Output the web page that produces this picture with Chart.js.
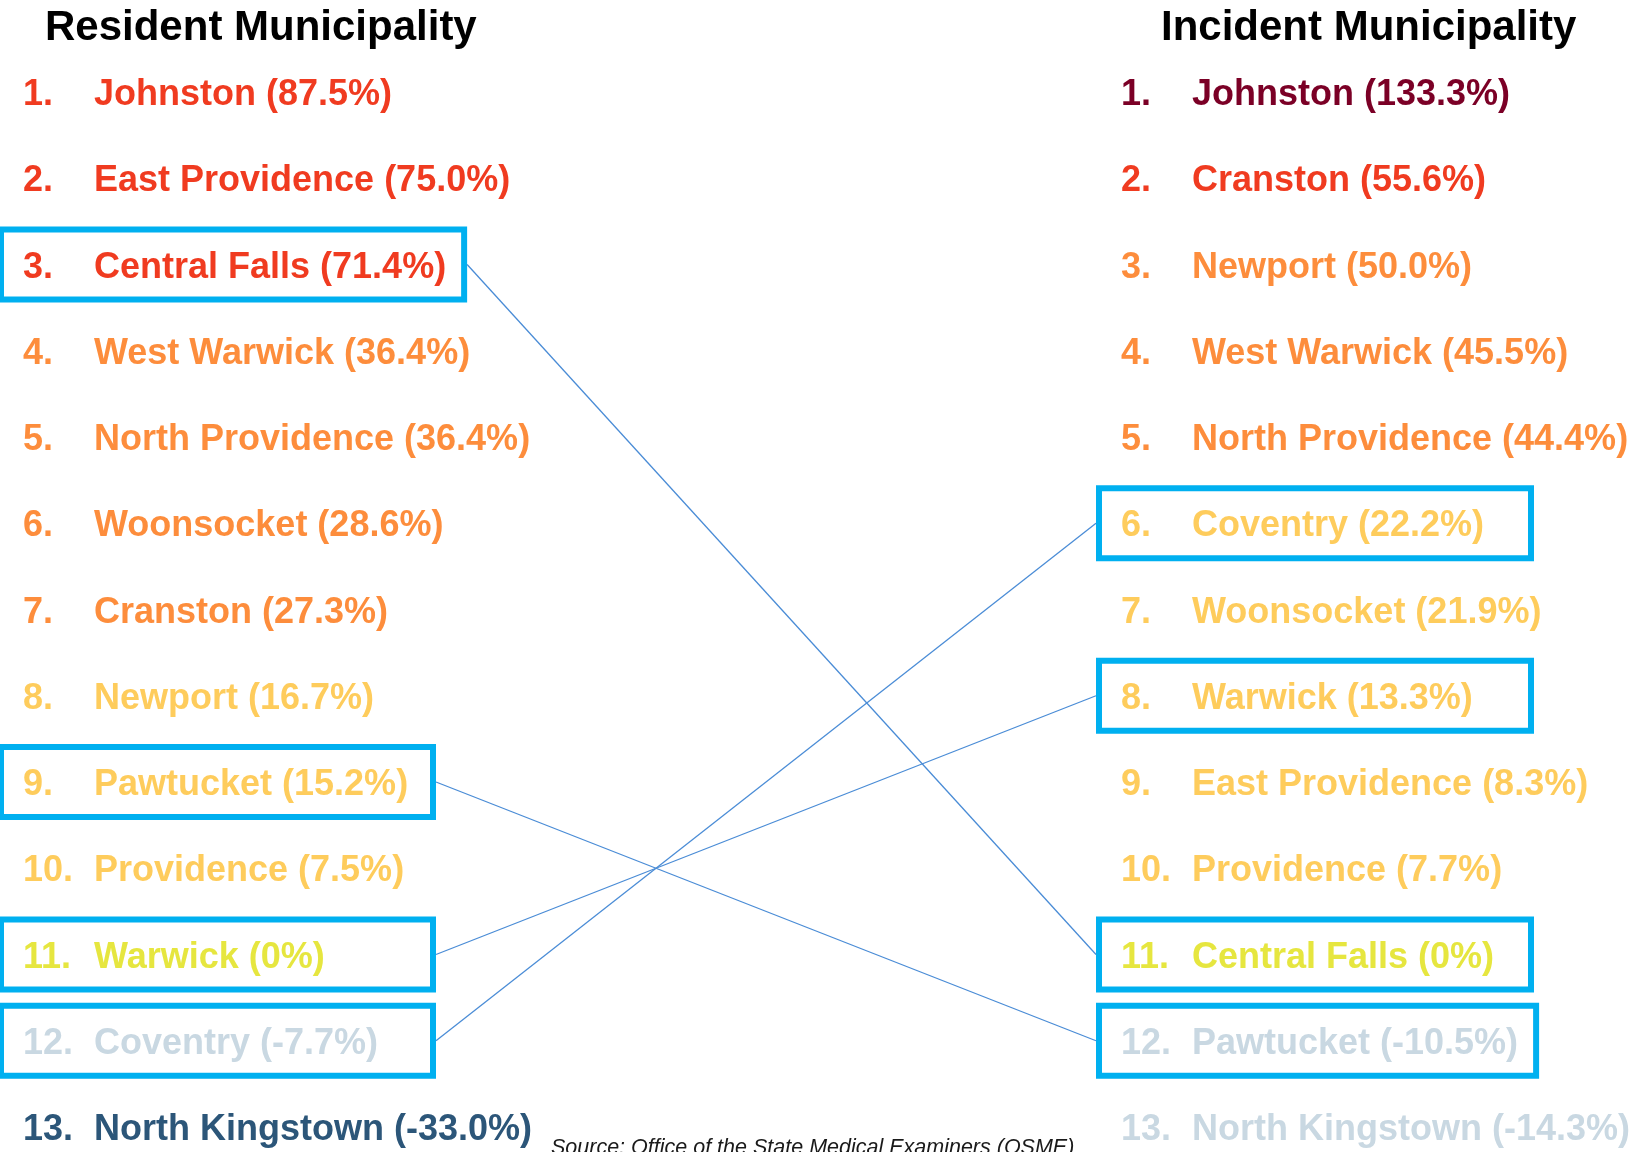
<!DOCTYPE html>
<html>
<head>
<meta charset="utf-8">
<script src="https://cdn.jsdelivr.net/npm/chart.js@4.4.1/dist/chart.umd.min.js"></script>
<style>
  html, body { margin: 0; padding: 0; background: #fff; }
  canvas { display: block; }
</style>
</head>
<body>
<canvas id="myChart" width="1640" height="1152"></canvas>
<script>
const residentNames = [
  "Johnston", "East Providence", "Central Falls", "West Warwick", "North Providence",
  "Woonsocket", "Cranston", "Newport", "Pawtucket", "Providence",
  "Warwick", "Coventry", "North Kingstown",
];
const residentChange = [87.5, 75.0, 71.4, 36.4, 36.4, 28.6, 27.3, 16.7, 15.2, 7.5, 0, -7.7, -33.0];

const incidentNames = [
  "Johnston", "Cranston", "Newport", "West Warwick", "North Providence",
  "Coventry", "Woonsocket", "Warwick", "East Providence", "Providence",
  "Central Falls", "Pawtucket", "North Kingstown",
];
const incidentChange = [133.3, 55.6, 50.0, 45.5, 44.4, 22.2, 21.9, 13.3, 8.3, 7.7, 0, -10.5, -14.3];

const highlighted = ["Central Falls", "Pawtucket", "Warwick", "Coventry"];
const columnTitles = ["Resident Municipality", "Incident Municipality"];
const sourceNote = "Source: Office of the State Medical Examiners (OSME)";

const FONT = "'Liberation Sans', Arial, sans-serif";

const colorFor = (v) => {
  if (v > 100) return "#7b0026";
  if (v > 50) return "#f03b20";
  if (v > 25) return "#fd8d3c";
  if (v > 0) return "#fecc5c";
  if (v === 0) return "#e6e63f";
  if (v > -25) return "#c9d8e2";
  return "#2c5679";
};

const formatChange = (v) => (v === 0 ? "0%" : v.toFixed(1) + "%");

// draws the two ranked lists, highlight boxes and the lines between them
const rankedListPlugin = {
  id: "rankedList",
  afterDatasetsDraw(chart) {
    const ctx = chart.ctx;
    const columns = [
      { names: residentNames, values: residentChange, meta: chart.getDatasetMeta(0), titleOffset: 22 },
      { names: incidentNames, values: incidentChange, meta: chart.getDatasetMeta(1), titleOffset: 40 },
    ];
    ctx.save();

    ctx.textAlign = "left";
    ctx.textBaseline = "alphabetic";
    ctx.fillStyle = "#000";
    ctx.font = "bold 42px " + FONT;
    columns.forEach((col, c) => {
      ctx.fillText(columnTitles[c], col.meta.data[0].x + col.titleOffset, 40);
    });

    ctx.font = "bold 36px " + FONT;
    const boxes = [{}, {}];
    columns.forEach((col, c) => {
      col.names.forEach((name, i) => {
        const pt = col.meta.data[i];
        const label = name + " (" + formatChange(col.values[i]) + ")";
        ctx.fillStyle = colorFor(col.values[i]);
        ctx.fillText(i + 1 + ".", pt.x, pt.y + 13);
        ctx.fillText(label, pt.x + 71, pt.y + 13);
        if (highlighted.includes(name)) {
          const textEnd = pt.x + 71 + ctx.measureText(label).width;
          const left = pt.x - 22;
          const right = Math.max(left + 432, textEnd + 18);
          boxes[c][name] = { left, right, top: pt.y - 35, bottom: pt.y + 35, y: pt.y };
        }
      });
    });

    ctx.strokeStyle = "#00b0f0";
    ctx.lineWidth = 6;
    boxes.forEach((set) => {
      Object.values(set).forEach((b) => {
        ctx.strokeRect(b.left, b.top, b.right - b.left, b.bottom - b.top);
      });
    });

    ctx.strokeStyle = "#4a8cd6";
    ctx.lineWidth = 1.3;
    highlighted.forEach((name) => {
      const a = boxes[0][name];
      const b = boxes[1][name];
      ctx.beginPath();
      ctx.moveTo(a.right + 3, a.y);
      ctx.lineTo(b.left - 3, b.y);
      ctx.stroke();
    });

    ctx.fillStyle = "#1a1a1a";
    ctx.font = "italic 21.5px " + FONT;
    ctx.fillText(sourceNote, 551, 1154);
    ctx.restore();
  },
};

new Chart(document.getElementById("myChart"), {
  type: "scatter",
  data: {
    datasets: [
      {
        label: "Resident",
        data: residentNames.map((n, i) => ({ x: 0, y: i + 1 })),
        pointRadius: 0,
      },
      {
        label: "Incident",
        data: incidentNames.map((n, i) => ({ x: 1, y: i + 1 })),
        pointRadius: 0,
      },
    ],
  },
  options: {
    responsive: false,
    animation: false,
    events: [],
    layout: { padding: { left: 23, right: 519, top: 92, bottom: 25 } },
    scales: {
      x: { type: "linear", min: 0, max: 1, display: false },
      y: { type: "linear", min: 1, max: 13, reverse: true, display: false },
    },
    plugins: {
      legend: { display: false },
      tooltip: { enabled: false },
    },
  },
  plugins: [rankedListPlugin],
});
</script>
</body>
</html>
